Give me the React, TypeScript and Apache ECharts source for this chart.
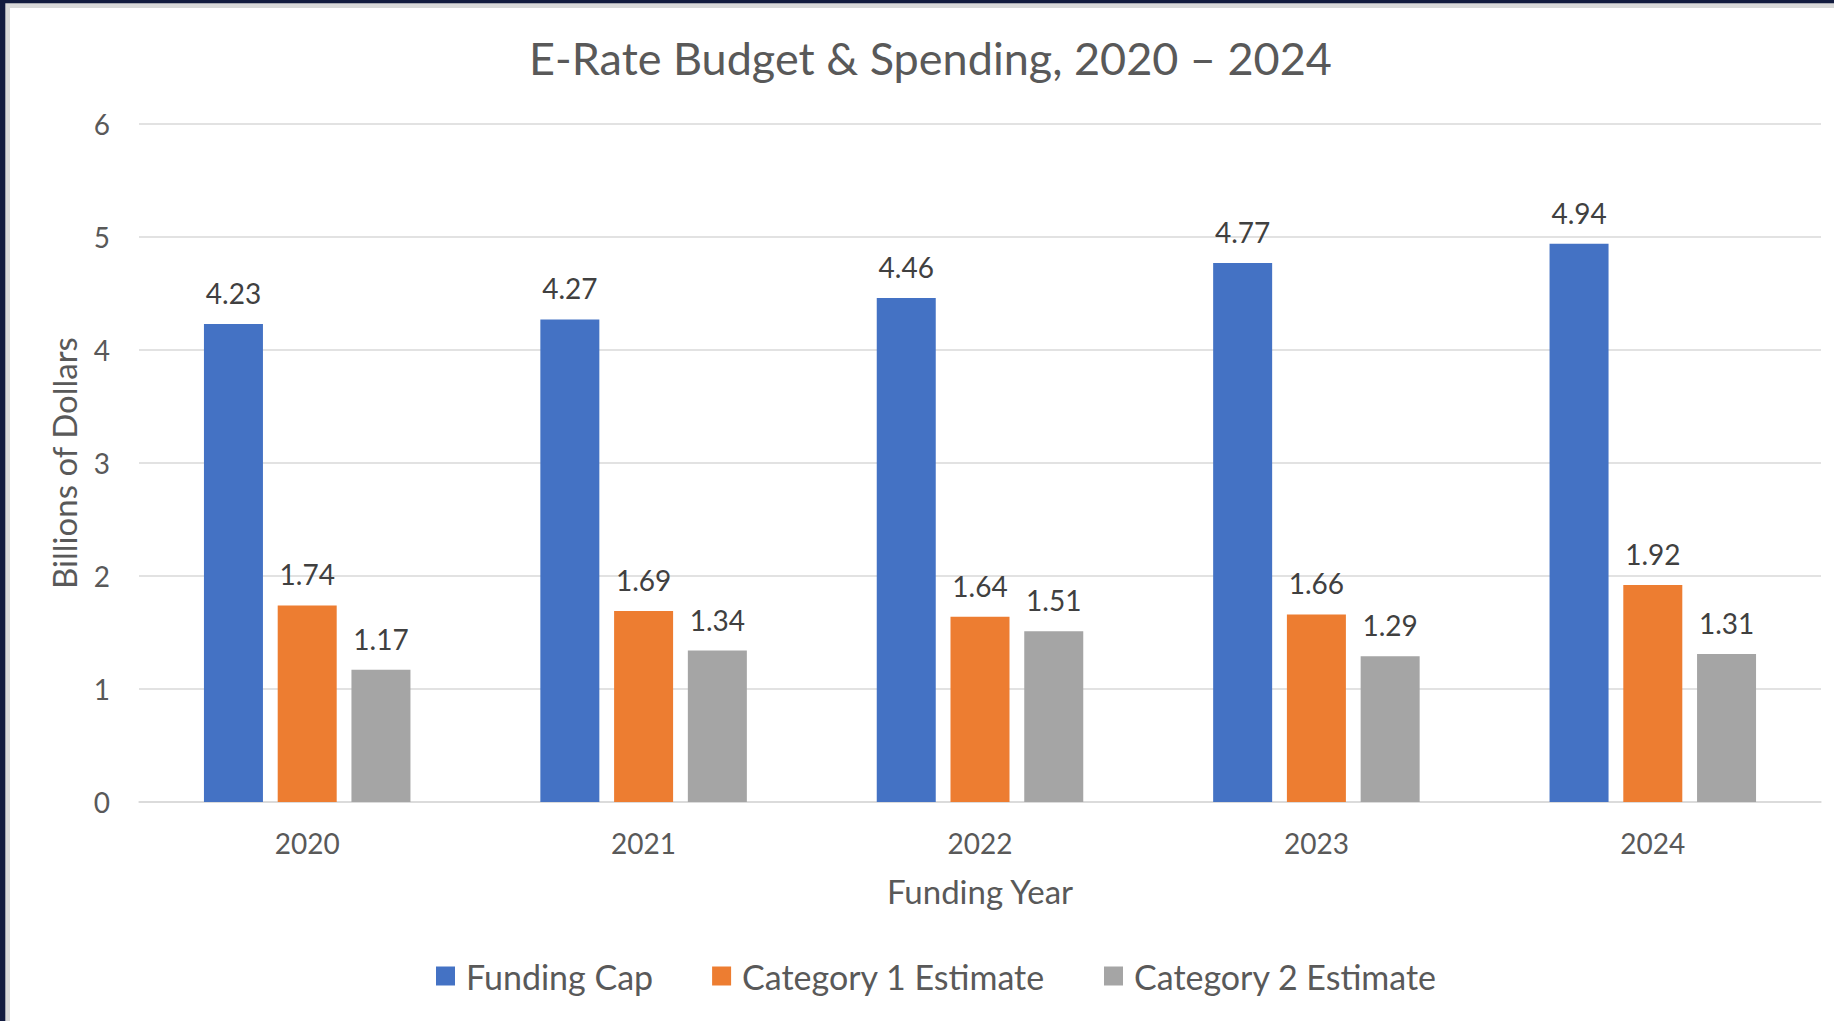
import React, { useEffect, useRef } from "react";
import * as echarts from "echarts";

const years = ["2020", "2021", "2022", "2023", "2024"];
const fundingCap = [4.23, 4.27, 4.46, 4.77, 4.94];
const category1 = [1.74, 1.69, 1.64, 1.66, 1.92];
const category2 = [1.17, 1.34, 1.51, 1.29, 1.31];
const seriesNames = ["Funding Cap", "Category 1 Estimate", "Category 2 Estimate"];
const colors = ["#4472C4", "#ED7D31", "#A5A5A5"];

const FONT = "Lato, 'Noto Sans', sans-serif";
const W = 1834;
const H = 1021;

export default function App() {
  const ref = useRef<HTMLDivElement>(null);
  useEffect(() => {
    document.body.style.margin = "0";
    if (!ref.current) return;
    const chart = echarts.init(ref.current, undefined, { renderer: "svg" });
    const label = {
      show: true,
      position: "top",
      distance: 17,
      color: "#404040",
      fontSize: 28,
      fontFamily: FONT,
      formatter: (p: any) => p.value.toFixed(2),
    };
    const mk = (i: number, data: number[]) => ({
      name: seriesNames[i],
      type: "bar",
      data,
      barWidth: 59,
      barGap: "25%",
      itemStyle: { color: colors[i] },
      label,
    });
    chart.setOption({
      animation: false,
      backgroundColor: "#ffffff",
      textStyle: { fontFamily: FONT },
      title: {
        text: "E-Rate Budget & Spending, 2020 \u2013 2024",
        left: 524,
        top: 30,
        textStyle: { color: "#595959", fontSize: 45, fontWeight: "normal", fontFamily: FONT },
      },
      legend: {
        left: 436,
        top: 959,
        padding: 0,
        itemWidth: 19,
        itemHeight: 19,
        itemGap: 59,
        icon: "rect",
        textStyle: { color: "#595959", fontSize: 34, fontFamily: FONT, padding: [0, 0, 0, 6] },
        data: seriesNames,
      },
      grid: { left: 139, right: 13, top: 124, bottom: 219, containLabel: false },
      xAxis: {
        type: "category",
        data: years,
        name: "Funding Year",
        nameLocation: "middle",
        nameGap: 72,
        nameTextStyle: { color: "#595959", fontSize: 33, fontFamily: FONT },
        axisLine: { lineStyle: { color: "#D9D9D9", width: 1.5 } },
        axisTick: { show: false },
        axisLabel: { color: "#595959", fontSize: 28, fontFamily: FONT, margin: 27 },
      },
      yAxis: {
        type: "value",
        min: 0,
        max: 6,
        interval: 1,
        name: "Billions of Dollars",
        nameLocation: "middle",
        nameRotate: 90,
        nameGap: 59,
        nameTextStyle: { color: "#595959", fontSize: 33, fontFamily: FONT },
        axisLine: { show: false },
        axisTick: { show: false },
        axisLabel: { color: "#595959", fontSize: 28, fontFamily: FONT, margin: 29 },
        splitLine: { lineStyle: { color: "#D9D9D9", width: 1.5 } },
      },
      graphic: [
        { type: "rect", shape: { x: 0, y: 0, width: W, height: 8 }, style: { fill: "#D9D9D9" }, silent: true },
        { type: "rect", shape: { x: 0, y: 0, width: 10, height: H }, style: { fill: "#D9D9D9" }, silent: true },
        { type: "rect", shape: { x: 0, y: 0, width: W, height: 3.3 }, style: { fill: "#121B3F" }, silent: true },
        { type: "rect", shape: { x: 0, y: 0, width: 5.3, height: H }, style: { fill: "#121B3F" }, silent: true },
      ],
      series: [mk(0, fundingCap), mk(1, category1), mk(2, category2)],
    });
    return () => chart.dispose();
  }, []);
  return <div ref={ref} style={{ width: W, height: H }} />;
}
